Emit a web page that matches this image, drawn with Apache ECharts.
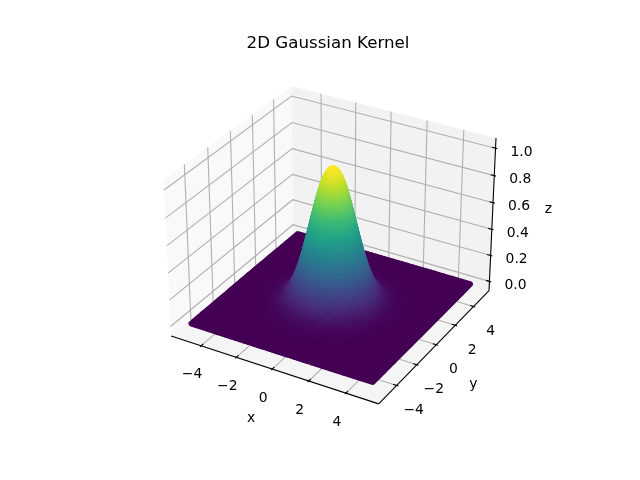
<!DOCTYPE html>
<html>
<head>
<meta charset="utf-8">
<style>html,body{margin:0;background:#fff}#main{width:640px;height:480px}</style>
<script src="https://cdn.jsdelivr.net/npm/echarts@6/dist/echarts.min.js"></script>
</head>
<body>
<div id="main"></div>
<script>
// grid positions along |x| and |y|, and surface height on one quadrant (the peak is symmetric)
const gridPos = [0, 0.125, 0.25, 0.375, 0.5, 0.625, 0.75, 0.875, 1, 1.125, 1.25, 1.375, 1.5, 1.75, 2, 2.25, 2.5, 2.75, 3, 3.5, 4, 5];
const heights = [
  [1.000, .992, .969, .932, .882, .823, .755, .682, .607, .531, .458, .389, .325, .216, .135, .080, .044, .023, .011, .002, 0, 0],
  [.992, .984, .962, .925, .876, .816, .749, .677, .602, .527, .454, .386, .322, .215, .134, .079, .044, .023, .011, .002, 0, 0],
  [.969, .962, .939, .903, .855, .797, .732, .661, .588, .515, .444, .377, .315, .210, .131, .077, .043, .022, .011, .002, 0, 0],
  [.932, .925, .903, .869, .823, .767, .704, .636, .565, .495, .427, .362, .303, .202, .126, .074, .041, .021, .010, .002, 0, 0],
  [.882, .876, .855, .823, .779, .726, .666, .602, .535, .469, .404, .343, .287, .191, .119, .070, .039, .020, .010, .002, 0, 0],
  [.823, .816, .797, .767, .726, .677, .621, .561, .499, .437, .377, .320, .267, .178, .111, .065, .036, .019, .009, .002, 0, 0],
  [.755, .749, .732, .704, .666, .621, .570, .515, .458, .401, .346, .293, .245, .163, .102, .060, .033, .017, .008, .002, 0, 0],
  [.682, .677, .661, .636, .602, .561, .515, .465, .414, .362, .312, .265, .221, .147, .092, .054, .030, .016, .008, .002, 0, 0],
  [.607, .602, .588, .565, .535, .499, .458, .414, .368, .322, .278, .236, .197, .131, .082, .048, .027, .014, .007, .001, 0, 0],
  [.531, .527, .515, .495, .469, .437, .401, .362, .322, .282, .243, .206, .172, .115, .072, .042, .023, .012, .006, .001, 0, 0],
  [.458, .454, .444, .427, .404, .377, .346, .312, .278, .243, .210, .178, .149, .099, .062, .036, .020, .010, .005, .001, 0, 0],
  [.389, .386, .377, .362, .343, .320, .293, .265, .236, .206, .178, .151, .126, .084, .053, .031, .017, .009, .004, .001, 0, 0],
  [.325, .322, .315, .303, .287, .267, .245, .221, .197, .172, .149, .126, .105, .070, .044, .026, .014, .007, .004, .001, 0, 0],
  [.216, .215, .210, .202, .191, .178, .163, .147, .131, .115, .099, .084, .070, .047, .029, .017, .009, .005, .002, 0, 0, 0],
  [.135, .134, .131, .126, .119, .111, .102, .092, .082, .072, .062, .053, .044, .029, .018, .011, .006, .003, .002, 0, 0, 0],
  [.080, .079, .077, .074, .070, .065, .060, .054, .048, .042, .036, .031, .026, .017, .011, .006, .003, .002, .001, 0, 0, 0],
  [.044, .044, .043, .041, .039, .036, .033, .030, .027, .023, .020, .017, .014, .009, .006, .003, .002, .001, 0, 0, 0, 0],
  [.023, .023, .022, .021, .020, .019, .017, .016, .014, .012, .010, .009, .007, .005, .003, .002, .001, .001, 0, 0, 0, 0],
  [.011, .011, .011, .010, .010, .009, .008, .008, .007, .006, .005, .004, .004, .002, .002, .001, 0, 0, 0, 0, 0, 0],
  [.002, .002, .002, .002, .002, .002, .002, .002, .001, .001, .001, .001, .001, 0, 0, 0, 0, 0, 0, 0, 0, 0],
  [0, 0, 0, 0, 0, 0, 0, 0, 0, 0, 0, 0, 0, 0, 0, 0, 0, 0, 0, 0, 0, 0],
  [0, 0, 0, 0, 0, 0, 0, 0, 0, 0, 0, 0, 0, 0, 0, 0, 0, 0, 0, 0, 0, 0]
];
const xTicks = [-4, -2, 0, 2, 4];
const yTicks = [-4, -2, 0, 2, 4];
const zTicks = [0, 0.2, 0.4, 0.6, 0.8, 1];
const xLim = [-5.7292, 5.7292];
const yLim = [-5.7292, 5.7292];
const zLim = [-0.0729, 1.0729];
const viridis = ['#440154', '#482878', '#3e4989', '#31688e', '#26828e', '#1f9e89', '#35b779', '#6ece58', '#b5de2b', '#fde725'];

// same camera as a default matplotlib 3d axes: elev 30, azim -60, dist 10, box 4:4:3
const elev = 30 * Math.PI / 180, azim = -60 * Math.PI / 180, dist = 10;
const boxScale = 1.8294640721620434 * 25 / 24 / Math.sqrt(41);
const box = [4 * boxScale, 4 * boxScale, 3 * boxScale];
const w = [Math.cos(elev) * Math.cos(azim), Math.cos(elev) * Math.sin(azim), Math.sin(elev)];
const uLen = Math.hypot(w[1], w[0]);
const u = [-w[1] / uLen, w[0] / uLen, 0];
const v = [w[1] * u[2] - w[2] * u[1], w[2] * u[0] - w[0] * u[2], w[0] * u[1] - w[1] * u[0]];
const dot = (a, b) => a[0] * b[0] + a[1] * b[1] + a[2] * b[2];

function toBox(x, y, z) {
  return [
    ((x - xLim[0]) / (xLim[1] - xLim[0]) - 0.5) * box[0],
    ((y - yLim[0]) / (yLim[1] - yLim[0]) - 0.5) * box[1],
    ((z - zLim[0]) / (zLim[1] - zLim[0]) - 0.5) * box[2]
  ];
}
function project(x, y, z) {
  const d = toBox(x, y, z);
  const s = dist - dot(w, d);
  return [dot(u, d) / s, dot(v, d) / s];
}
const depth = (x, y, z) => dot(w, toBox(x, y, z));

// full signed grid built from the quadrant table
const axisIdx = [];
for (let i = gridPos.length - 1; i > 0; i--) axisIdx.push(-i);
for (let i = 0; i < gridPos.length; i++) axisIdx.push(i);
const gx = k => Math.sign(axisIdx[k]) * gridPos[Math.abs(axisIdx[k])];
const gz = (i, j) => heights[Math.abs(axisIdx[i])][Math.abs(axisIdx[j])];

const cells = [];
for (let i = 0; i < axisIdx.length - 1; i++) {
  for (let j = 0; j < axisIdx.length - 1; j++) {
    const c = [[i, j], [i + 1, j], [i + 1, j + 1], [i, j + 1]];
    let sum = 0;
    c.forEach(p => { sum += depth(gx(p[0]), gx(p[1]), gz(p[0], p[1])); });
    cells.push([i, j, sum / 4]);
  }
}
cells.sort((a, b) => a[2] - b[2]);

const zColor = z => echarts.color.lerp(Math.min(1, Math.max(0, z)), viridis);

function renderCell(params, api) {
  const i = api.value(0), j = api.value(1);
  const corners = [[i, j], [i + 1, j], [i + 1, j + 1], [i, j + 1]].map(p => {
    const z = gz(p[0], p[1]);
    return {z: z, px: api.coord(project(gx(p[0]), gx(p[1]), z))};
  });
  let lo = corners[0], hi = corners[0];
  corners.forEach(c => { if (c.z < lo.z) lo = c; if (c.z > hi.z) hi = c; });
  let paint = zColor(lo.z);
  if (hi.z - lo.z > 0.001) {
    paint = new echarts.graphic.LinearGradient(lo.px[0], lo.px[1], hi.px[0], hi.px[1], [
      {offset: 0, color: zColor(lo.z)},
      {offset: 1, color: zColor(hi.z)}
    ], true);
  }
  return {
    type: 'polygon',
    shape: {points: corners.map(c => c.px)},
    style: {fill: paint, stroke: paint, lineWidth: 6.2, lineJoin: 'round'},
    silent: true
  };
}

// panes, grid lines, axis lines, ticks and labels
const frame = [];
const [x0, x1] = xLim, [y0, y1] = yLim, [z0, z1] = zLim;
const dx = (x1 - x0) / 12, dy = (y1 - y0) / 12;
function addPane(pts, fill) { frame.push({kind: 'pane', pts: pts, fill: fill}); }
function addLine(pts, color) { frame.push({kind: 'line', pts: pts, color: color}); }
function addText(pt, ox, oy, text) { frame.push({kind: 'text', pt: pt, ox: ox, oy: oy, text: text}); }
const tickText = (t, digits) => t.toFixed(digits).replace('-', '\u2212');

addPane([[x0, y0, z0], [x0, y1, z0], [x0, y1, z1], [x0, y0, z1]], '#f9f9f9');
addPane([[x0, y1, z0], [x1, y1, z0], [x1, y1, z1], [x0, y1, z1]], '#f2f2f2');
addPane([[x0, y0, z0], [x1, y0, z0], [x1, y1, z0], [x0, y1, z0]], '#f5f5f5');

xTicks.forEach(t => addLine([[t, y0, z0], [t, y1, z0], [t, y1, z1]], '#b0b0b0'));
yTicks.forEach(t => addLine([[x1, t, z0], [x0, t, z0], [x0, t, z1]], '#b0b0b0'));
zTicks.forEach(t => addLine([[x0, y0, t], [x0, y1, t], [x1, y1, t]], '#b0b0b0'));

addLine([[x0, y0, z0], [x1, y0, z0]], '#000');
addLine([[x1, y0, z0], [x1, y1, z0]], '#000');
addLine([[x1, y1, z0], [x1, y1, z1]], '#000');

xTicks.forEach(t => {
  addLine([[t, y0 + 0.2 * dy, z0], [t, y0 - 0.1 * dy, z0]], '#000');
  addText([t, y0, z0], -9, 29, tickText(t, 0));
});
yTicks.forEach(t => {
  addLine([[x1 - 0.2 * dx, t, z0], [x1 + 0.1 * dx, t, z0]], '#000');
  addText([x1, t, z0], 17, 25, tickText(t, 0));
});
zTicks.forEach(t => {
  addLine([[x1 - 0.2 * dx, y1, t], [x1 + 0.1 * dx, y1, t]], '#000');
  addText([x1, y1, t], 26, 4, tickText(t, 1));
});
addText([0, y0, z0], -21, 49, 'x');
addText([x1, 0, z0], 37, 40, 'y');
addText([x1, y1, 0.5], 56, -7, 'z');

function renderFrame(params, api) {
  const item = frame[api.value(0)];
  const toPx = p => api.coord(project(p[0], p[1], p[2]));
  if (item.kind === 'pane') {
    return {type: 'polygon', shape: {points: item.pts.map(toPx)}, style: {fill: item.fill}, silent: true};
  }
  if (item.kind === 'line') {
    return {type: 'polyline', shape: {points: item.pts.map(toPx)}, style: {stroke: item.color, lineWidth: 1.1, fill: null}, silent: true};
  }
  const at = toPx(item.pt);
  return {
    type: 'text',
    style: {
      x: at[0] + item.ox, y: at[1] + item.oy, text: item.text, fill: '#000',
      font: '13.9px "DejaVu Sans"', align: 'center', verticalAlign: 'middle'
    },
    silent: true
  };
}

var myChart = echarts.init(document.getElementById('main'));
var option = {
  animation: false,
  backgroundColor: '#fff',
  title: {
    text: '2D Gaussian Kernel',
    left: 328,
    top: 35,
    padding: 0,
    textAlign: 'center',
    textStyle: {fontFamily: 'DejaVu Sans', fontSize: 16.67, fontWeight: 'normal', color: '#000'}
  },
  grid: {left: 143.2, top: 57.6, width: 369.6, height: 369.6},
  xAxis: {type: 'value', min: -0.095, max: 0.09, show: false},
  yAxis: {type: 'value', min: -0.095, max: 0.09, show: false},
  series: [
    {
      type: 'custom',
      coordinateSystem: 'cartesian2d',
      clip: false,
      silent: true,
      encode: {x: -1, y: -1},
      data: frame.map((f, k) => [k]),
      renderItem: renderFrame
    },
    {
      type: 'custom',
      coordinateSystem: 'cartesian2d',
      clip: false,
      silent: true,
      encode: {x: -1, y: -1},
      data: cells,
      renderItem: renderCell
    }
  ]
};
myChart.setOption(option);
</script>
</body>
</html>
